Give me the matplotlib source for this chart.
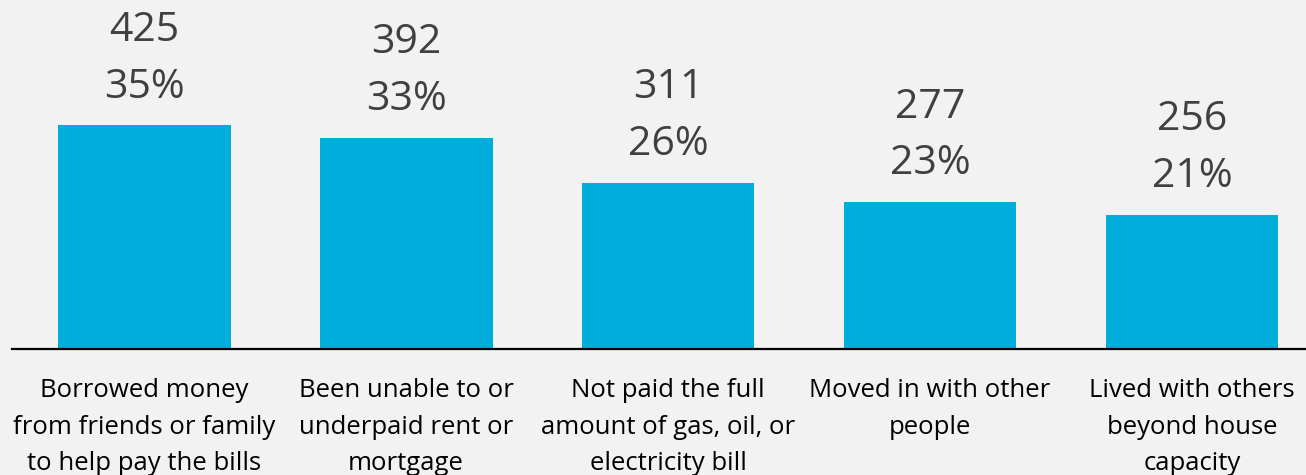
import matplotlib
matplotlib.use("Agg")
import matplotlib.pyplot as plt

categories = [
    "Borrowed money\nfrom friends or family\nto help pay the bills",
    "Been unable to or\nunderpaid rent or\nmortgage",
    "Not paid the full\namount of gas, oil, or\nelectricity bill",
    "Moved in with other\npeople",
    "Lived with others\nbeyond house\ncapacity",
]
counts = [425, 392, 311, 277, 256]
percents = [35, 33, 26, 23, 21]

bar_color = "#00AEDC"
bg = "#F2F2F2"

fig = plt.figure(figsize=(13.06, 4.75), dpi=100, facecolor=bg)
ax = fig.add_axes([12/1306, (475-349)/475, 1294/1306, 349/475])
ax.set_facecolor(bg)

x = list(range(len(categories)))
bars = ax.bar(x, percents, width=0.66, color=bar_color, zorder=2)

ax.set_xlim(-0.504, 4.435)
ax.set_ylim(0, 54.5)

for xi, c, p in zip(x, counts, percents):
    ax.annotate(f"{p}%", (xi, p), xytext=(0, 27), textcoords="offset points",
                ha="center", va="center", fontsize=29.5, color="#404040",
                family="Open Sans")
    ax.annotate(f"{c}", (xi, p), xytext=(0, 68), textcoords="offset points",
                ha="center", va="center", fontsize=29.5, color="#404040",
                family="Open Sans")

for s in ["top", "right", "left"]:
    ax.spines[s].set_visible(False)
ax.spines["bottom"].set_linewidth(1.6)
ax.spines["bottom"].set_color("black")
ax.set_yticks([])
ax.set_xticks(x)
ax.set_xticklabels(categories, fontsize=18.5, family="Open Sans", color="black", linespacing=1.6)
ax.tick_params(axis="x", length=0, pad=21)

fig.savefig("out.png", dpi=100, facecolor=bg)
